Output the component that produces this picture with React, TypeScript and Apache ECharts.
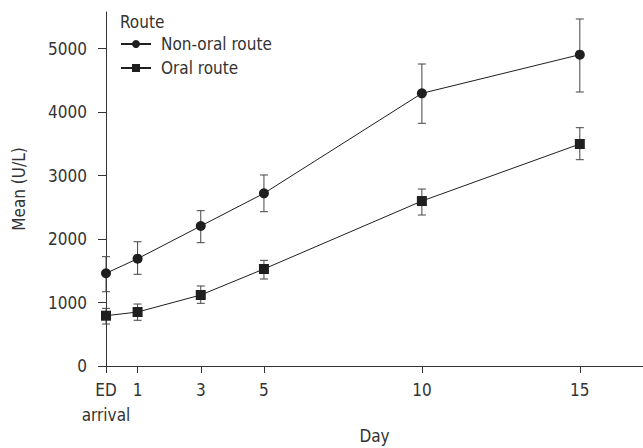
import React, { useEffect, useRef } from "react";
import * as echarts from "echarts";

const days = [0, 1, 3, 5, 10, 15];
const dayTicks = [0, 1, 3, 5, 10, 15];
const yTicks = [0, 1000, 2000, 3000, 4000, 5000];

const nonOralMean = [1460, 1690, 2205, 2719, 4294, 4903];
const nonOralLow = [1170, 1444, 1942, 2430, 3822, 4315];
const nonOralHigh = [1722, 1957, 2446, 3008, 4756, 5465];

const oralMean = [792, 850, 1118, 1528, 2598, 3496];
const oralLow = [661, 720, 987, 1370, 2378, 3249];
const oralHigh = [908, 976, 1260, 1664, 2787, 3753];

const FONT = "'DejaVu Sans Condensed', 'Roboto', sans-serif";
const FS = 17;
const TEXT = "#333";
const INK = "#1f1f1f";

function errorSeries(name: string, low: number[], high: number[]) {
  return {
    type: "custom",
    name: name + " err",
    silent: true,
    z: 1,
    data: days.map((d, i) => [d, low[i], high[i]]),
    encode: { x: 0, y: [1, 2] },
    renderItem: (params: any, api: any) => {
      const x = api.value(0);
      const lo = api.coord([x, api.value(1)]);
      const hi = api.coord([x, api.value(2)]);
      const w = 4;
      const style = { stroke: "#444", lineWidth: 1 };
      return {
        type: "group",
        children: [
          { type: "line", shape: { x1: lo[0], y1: lo[1], x2: hi[0], y2: hi[1] }, style },
          { type: "line", shape: { x1: hi[0] - w, y1: hi[1], x2: hi[0] + w, y2: hi[1] }, style },
          { type: "line", shape: { x1: lo[0] - w, y1: lo[1], x2: lo[0] + w, y2: lo[1] }, style },
        ],
      };
    },
  };
}

export default function App() {
  const ref = useRef<HTMLDivElement>(null);
  useEffect(() => {
    document.body.style.margin = "0";
    const chart = echarts.init(ref.current!, null, { renderer: "svg" });
    chart.setOption({
      animation: false,
      backgroundColor: "#ffffff",
      textStyle: { fontFamily: FONT },
      grid: { left: 106, right: 0, top: 12, bottom: 82, outerBoundsMode: "none", containLabel: false },
      title: {
        text: "Route",
        left: 115,
        top: 8,
        textStyle: { fontFamily: FONT, fontSize: FS, fontWeight: "normal", color: TEXT },
      },
      legend: {
        left: 115,
        top: 29,
        orient: "vertical",
        itemWidth: 30,
        itemHeight: 10,
        itemGap: 4,
        data: ["Non-oral route", "Oral route"],
        textStyle: { fontFamily: FONT, fontSize: FS, color: TEXT, lineHeight: 20, padding: [0, 0, 0, 5] },
      },
      xAxis: {
        type: "value",
        min: 0,
        max: 17,
        interval: 1,
        name: "Day",
        nameLocation: "middle",
        nameGap: 61,
        nameMoveOverlap: false,
        nameTextStyle: { fontFamily: FONT, fontSize: FS, color: TEXT },
        axisLine: { onZero: false, lineStyle: { color: "#333", width: 1 } },
        axisTick: { show: true, length: 7, customValues: dayTicks, lineStyle: { color: "#333" } },
        axisLabel: {
          customValues: dayTicks,
          showMinLabel: true,
          margin: 11,
          fontFamily: FONT,
          fontSize: FS,
          color: TEXT,
          lineHeight: 25,
          formatter: (v: number) => (v === 0 ? "ED\narrival" : String(v)),
        },
        splitLine: { show: false },
      },
      yAxis: {
        type: "value",
        min: 0,
        max: 5575,
        interval: 1000,
        name: "Mean (U/L)",
        nameLocation: "middle",
        nameGap: 79,
        nameMoveOverlap: false,
        nameTextStyle: { fontFamily: FONT, fontSize: FS, color: TEXT },
        axisLine: { show: true, onZero: false, lineStyle: { color: "#333", width: 1 } },
        axisTick: { show: true, length: 8, customValues: yTicks, lineStyle: { color: "#333" } },
        axisLabel: {
          customValues: yTicks,
          showMinLabel: true,
          margin: 19,
          fontFamily: FONT,
          fontSize: FS,
          color: TEXT,
          formatter: (v: number) => String(v),
        },
        splitLine: { show: false },
      },
      series: [
        errorSeries("Non-oral route", nonOralLow, nonOralHigh),
        errorSeries("Oral route", oralLow, oralHigh),
        {
          type: "line",
          name: "Non-oral route",
          data: days.map((d, i) => [d, nonOralMean[i]]),
          symbol: "circle",
          symbolSize: 10,
          z: 3,
          lineStyle: { color: INK, width: 1 },
          itemStyle: { color: INK },
        },
        {
          type: "line",
          name: "Oral route",
          data: days.map((d, i) => [d, oralMean[i]]),
          symbol: "rect",
          symbolSize: 10,
          z: 3,
          lineStyle: { color: INK, width: 1 },
          itemStyle: { color: INK },
        },
      ],
    });
    return () => chart.dispose();
  }, []);
  return <div ref={ref} style={{ width: 643, height: 448 }} />;
}
